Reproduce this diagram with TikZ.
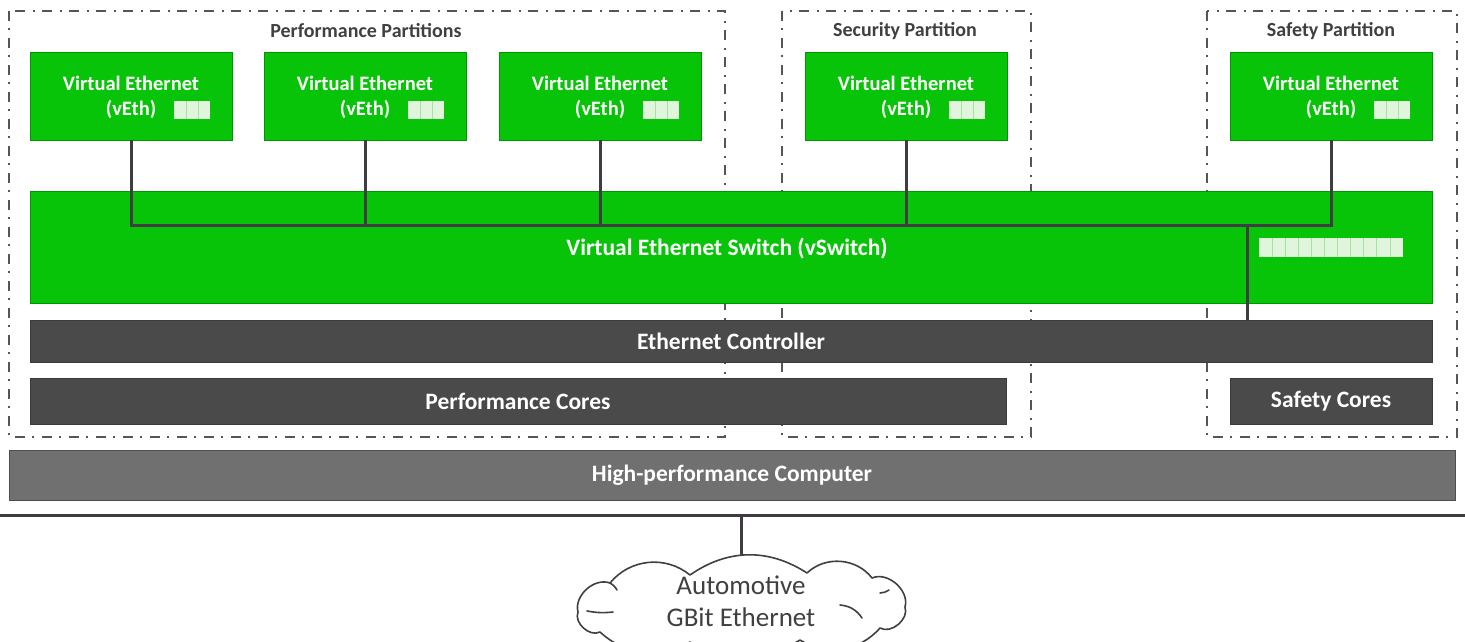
\documentclass[tikz,border=0pt]{standalone}
\usepackage{fontspec}
\setmainfont{Carlito}
\usetikzlibrary{calc}
\definecolor{vgreen}{RGB}{8,196,8}
\definecolor{vgreenedge}{RGB}{0,150,0}
\definecolor{darkbar}{RGB}{74,74,74}
\definecolor{hpcgray}{RGB}{112,112,112}
\definecolor{wirecol}{RGB}{64,60,66}
\definecolor{framecol}{RGB}{85,85,85}
\definecolor{titlecol}{RGB}{64,64,64}
\definecolor{phfill}{RGB}{225,245,220}
\tikzset{
  partition/.style={draw=framecol, line width=1.5pt, dash pattern=on 10pt off 7pt on 2pt off 8pt},
  parttitle/.style={text=titlecol, font=\bfseries\fontsize{20}{22}\selectfont, inner sep=0pt},
  vethbox/.style={fill=vgreen, draw=vgreenedge, line width=0.8pt, minimum width=202pt, minimum height=88pt, inner sep=0pt},
  vethtext/.style={text=white, font=\bfseries\fontsize{20.5}{25}\selectfont, align=center, inner sep=0pt},
  greenbar/.style={fill=vgreen, draw=vgreenedge, line width=0.8pt, inner sep=0pt},
  bartext/.style={text=white, font=\bfseries\fontsize{23.5}{26}\selectfont},
  darkbarbox/.style={fill=darkbar, draw=darkbar!80!black, line width=0.8pt, inner sep=0pt, bartext},
  hpcbox/.style={fill=hpcgray, draw=hpcgray!70!black, line width=1pt, inner sep=0pt, bartext},
  wire/.style={draw=wirecol, line width=3pt},
  placeholder/.style={fill=phfill, draw=none},
  cloudline/.style={draw=titlecol, line width=1.6pt, line join=round, line cap=round},
  cloudtext/.style={text=titlecol, font=\fontsize{27}{32}\selectfont, align=center, inner sep=0pt}
}
\begin{document}
\begin{tikzpicture}[x=1pt, y=-1pt]
  \useasboundingbox (0,0) rectangle (1465,641);

  % partition frames
  \draw[partition] (9,11) rectangle (725,437);
  \draw[partition] (782,11) rectangle (1031,437);
  \draw[partition] (1207,11) rectangle (1457,437);
  \node[parttitle] (tperf) at (366,31) {Performance Partitions};
  \node[parttitle] (tsec) at (905,31) {Security Partition};
  \node[parttitle] (tsaf) at (1331,31) {Safety Partition};

  % virtual switch and lower layers
  \node[greenbar, minimum width=1402pt, minimum height=112pt] (vsw) at (731,247) {};
  \node[bartext, inner sep=0pt] (vswtext) at (727,249) {Virtual Ethernet Switch (vSwitch)};
  \fill[placeholder] (1259,238) rectangle (1403,257);
  \foreach \k in {1,...,10} \draw[vgreen!40!white, line width=1pt] ({1259+\k*13.1},238) -- ({1259+\k*13.1},257);

  \node[darkbarbox, minimum width=1402pt, minimum height=42pt] (ec) at (731,341) {Ethernet Controller};
  \node[darkbarbox, minimum width=976pt, minimum height=46pt] (pc) at (518,401) {Performance Cores};
  \node[darkbarbox, minimum width=202pt, minimum height=46pt] (sc) at (1331,401) {Safety Cores};
  \node[hpcbox, minimum width=1446pt, minimum height=50pt] (hpc) at (732,475) {High-performance Computer};

  % virtual ethernet endpoints
  \foreach \n/\cx in {v1/131, v2/365, v3/600, v4/906, v5/1331} {
    \node[vethbox] (\n) at (\cx,96) {};
    \node[vethtext] at (\cx,97) {Virtual Ethernet\\(vEth)};
    \fill[placeholder] ($(\cx,101)+(43,0)$) rectangle ($(\cx,119)+(79,0)$);
    \draw[vgreen!40!white, line width=1pt] ($(\cx,101)+(55,0)$) -- ($(\cx,119)+(55,0)$);
    \draw[vgreen!40!white, line width=1pt] ($(\cx,101)+(67,0)$) -- ($(\cx,119)+(67,0)$);
  }

  % internal bus of the switch
  \coordinate (bus) at (0,225);
  \coordinate (tap) at (1247,225);
  \draw[wire] (v1.south) |- (v5.south |- bus) -- (v5.south);
  \foreach \n in {v2,v3,v4} \draw[wire] (\n.south) -- (\n.south |- bus);
  \draw[wire] (tap) -- (tap |- ec.north);

  % external network: rail, drop and cloud
  \coordinate (rail) at (0,515);
  \coordinate (railR) at (1465,515);
  \coordinate (drop) at (741,515);
  \coordinate (cloudtop) at (741,572);
  \draw[wire] (rail) -- (railR);
  \draw[wire] (drop) -- (cloudtop);
  \begin{scope}[shift={(741,605)}, x=1pt, y=1pt]
    \filldraw[cloudline, fill=white]
      (-131,22) to[bend left=45] (-51,30)
      to[bend left=34] (66,32)
      to[bend left=48] (131,27)
      to[bend left=65] (164,-2)
      to[bend left=70] (139,-23)
      to[bend left=40] (59,-35)
      to[bend left=30] (-51,-37)
      to[bend left=36] (-141,-27)
      to[bend left=70] (-163,-7)
      to[bend left=62] cycle;
    % inner creases
    \draw[cloudline] (-154,-6) to[bend right=8] (-128,-7);
    \draw[cloudline] (99,0) to[bend left=25] (121,-13);
    \draw[cloudline] (139,12) to[bend right=15] (148,15);
    \draw[cloudline] (-131,22) to[bend left=15] (-124,15);
  \end{scope}
  \node[cloudtext] (nettext) at (741,601) {Automotive\\GBit Ethernet};
\end{tikzpicture}
\end{document}
